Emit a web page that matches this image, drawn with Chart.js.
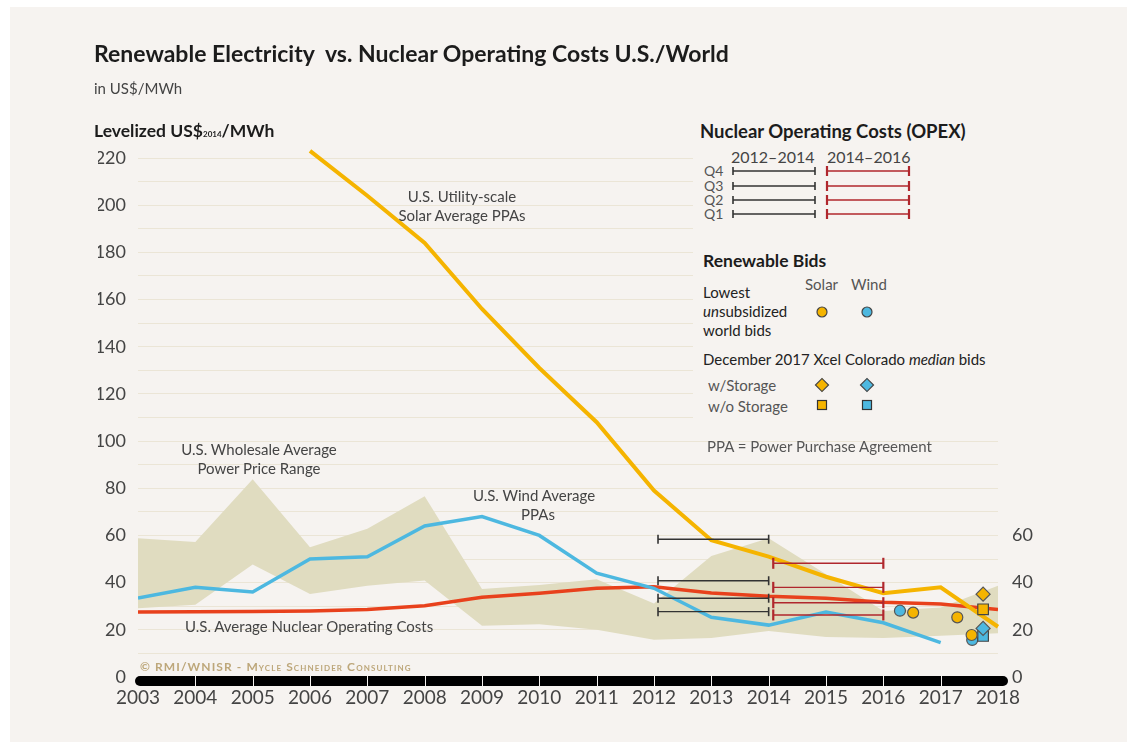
<!DOCTYPE html>
<html>
<head>
<meta charset="utf-8">
<script src="https://cdn.jsdelivr.net/npm/chart.js@4.4.1/dist/chart.umd.min.js"></script>
<style>
  body { margin: 0; background: #fff; }
  #wrap { position: relative; width: 1135px; height: 747px; overflow: hidden; font-family: Lato, 'Noto Sans', sans-serif; }
  #panel { position: absolute; left: 10px; top: 7px; width: 1117px; height: 735px; background: #f6f3f0; }
  canvas { position: absolute; left: 0; top: 0; }
  .t { position: absolute; white-space: nowrap; line-height: 1; transform: translateY(-50%); color: #444; font-size: 15px; }
  .c { transform: translate(-50%, -50%); text-align: center; }
  .b { font-weight: 700; color: #1c1c1c; }
  #legendBox { position: absolute; left: 693px; top: 118px; width: 312px; height: 315px; background: #f6f3f0; }
  #legendBox svg { position: absolute; left: 0; top: 0; }
  .copy { font-size: 12px; font-weight: 700; font-variant: small-caps; color: #bda77a; letter-spacing: 1.1px; }
</style>
</head>
<body>
<div id="wrap">
  <div id="panel"></div>
  <canvas id="chart" width="1135" height="747"></canvas>

  <div class="t b" style="left:94px; top:53px; font-size:23px;">Renewable Electricity&nbsp; vs. Nuclear Operating Costs U.S./World</div>
  <div class="t" style="left:94px; top:88px; font-size:15px;">in US$/MWh</div>
  <div class="t b" style="left:94px; top:131px; font-size:17.5px;">Levelized US$<span style="font-size:8px;">2014</span>/MWh</div>

  <div class="t c" style="left:462px; top:196px;">U.S. Utility-scale</div>
  <div class="t c" style="left:462px; top:215px;">Solar Average PPAs</div>
  <div class="t c" style="left:259px; top:449px;">U.S. Wholesale Average</div>
  <div class="t c" style="left:259px; top:468px;">Power Price Range</div>
  <div class="t c" style="left:534px; top:495px;">U.S. Wind Average</div>
  <div class="t c" style="left:538px; top:514px;">PPAs</div>
  <div class="t" style="left:185px; top:626px;">U.S. Average Nuclear Operating Costs</div>
  <div class="t copy" style="left:140px; top:667px;">© RMI/WNISR - Mycle Schneider Consulting</div>

  <div id="legendBox">
    <svg width="312" height="315" id="legendSvg"></svg>
    <div class="t b" style="left:7px; top:13px; font-size:18.5px;">Nuclear Operating Costs (OPEX)</div>
    <div class="t" style="left:38px; top:39px; font-size:16px;">2012–2014</div>
    <div class="t" style="left:134px; top:39px; font-size:16px;">2014–2016</div>
    <div class="t" style="left:11px; top:53px; font-size:14px; color:#555;">Q4</div>
    <div class="t" style="left:11px; top:68px; font-size:14px; color:#555;">Q3</div>
    <div class="t" style="left:11px; top:82px; font-size:14px; color:#555;">Q2</div>
    <div class="t" style="left:11px; top:96px; font-size:14px; color:#555;">Q1</div>

    <div class="t b" style="left:10px; top:143px; font-size:17.5px;">Renewable Bids</div>
    <div class="t" style="left:112px; top:166px; color:#555;">Solar</div>
    <div class="t" style="left:158px; top:166px; color:#555;">Wind</div>
    <div class="t" style="left:10px; top:174px; color:#222;">Lowest</div>
    <div class="t" style="left:10px; top:193px; color:#222;"><i>un</i>subsidized</div>
    <div class="t" style="left:10px; top:212px; color:#222;">world bids</div>
    <div class="t" style="left:10px; top:241px; color:#222;">December 2017 Xcel Colorado <i>median</i> bids</div>
    <div class="t" style="left:15px; top:267px; color:#555;">w/Storage</div>
    <div class="t" style="left:15px; top:288px; color:#555;">w/o Storage</div>
  </div>
  <div class="t" style="left:707px; top:446px; color:#555;">PPA = Power Purchase Agreement</div>
</div>

<script>
// x values (years) and series, US$/MWh
const years = [2003, 2004, 2005, 2006, 2007, 2008, 2009, 2010, 2011, 2012, 2013, 2014, 2015, 2016, 2017, 2018];
const solarPPA = [null, null, null, 223, 204, 184, 156, 131, 108, 79, 58, 51, 42.5, 35.5, 38, 21.3];
const windPPA = [33.5, 38, 36, 50, 51, 64, 68, 60, 44, 37.6, 25.3, 22, 27.5, 23, 14.6, null];
const nuclearOpex = [27.6, 27.7, 27.8, 28, 28.6, 30.2, 33.8, 35.5, 37.6, 38.3, 35.6, 34.2, 33.4, 31.7, 30.9, 28.6];
const wholesaleHigh = [58.8, 57.2, 83.8, 55, 62.8, 76.6, 37.3, 39, 41.4, 31.2, 51.3, 58.8, 43.6, 28, 29.5, 38.7];
const wholesaleLow = [29.1, 30.6, 47.7, 35.2, 38.7, 40.9, 21.7, 22.4, 20, 15.8, 16.5, 19.5, 17, 16.5, 17.5, 18.5];

// nuclear OPEX quartiles, two periods
const opexQuartiles = ['Q1', 'Q2', 'Q3', 'Q4'];
const opex2012_2014 = [27.7, 33.4, 40.8, 58.4];
const opex2014_2016 = [26.3, 31.5, 38, 48.2];
const opexSpanA = [2012.07, 2014];
const opexSpanB = [2014.08, 2016];

// renewable bids
const solarBidX = [2016.52, 2017.29, 2017.54];
const solarBidY = [27.3, 25.3, 17.8];
const windBidX = [2016.29, 2017.55];
const windBidY = [28.1, 15.7];
const xcelX = 2017.74;
const xcelSolarStorage = 35.1;
const xcelWindStorage = 20.6;
const xcelSolarNoStorage = 28.7;
const xcelWindNoStorage = 17.4;

const yTicksLeft = [0, 20, 40, 60, 80, 100, 120, 140, 160, 180, 200, 220];
const yTicksRight = [0, 20, 40, 60];

const SOLAR = '#f5b400';
const WIND = '#4db8e0';
const NUKE = '#e8411c';
const BAND = '#e0dcc0';
const GRID = '#ebe5d6';
const TXT = '#444';

const pts = (xs, ys) => xs.map((x, i) => ({ x: x, y: ys[i] })).filter(p => p.y !== null);

const datasets = [];

// bid markers on top
datasets.push({ label: 'Solar bids', data: pts(solarBidX, solarBidY), showLine: false, pointStyle: 'circle', pointRadius: 5.5,
  pointBackgroundColor: SOLAR, pointBorderColor: '#555', pointBorderWidth: 1.2, order: 0 });
datasets.push({ label: 'Wind bids', data: pts(windBidX, windBidY), showLine: false, pointStyle: 'circle', pointRadius: 5.5,
  pointBackgroundColor: WIND, pointBorderColor: '#555', pointBorderWidth: 1.2, order: 1 });
datasets.push({ label: 'Xcel w/Storage', data: [{ x: xcelX, y: xcelSolarStorage }], showLine: false, pointStyle: 'rectRot', pointRadius: 7,
  pointBackgroundColor: SOLAR, pointBorderColor: '#555', pointBorderWidth: 1.2, order: 0 });
datasets.push({ label: 'Xcel w/Storage wind', data: [{ x: xcelX, y: xcelWindStorage }], showLine: false, pointStyle: 'rectRot', pointRadius: 7,
  pointBackgroundColor: WIND, pointBorderColor: '#555', pointBorderWidth: 1.2, order: 0 });
datasets.push({ label: 'Xcel w/o Storage', data: [{ x: xcelX, y: xcelSolarNoStorage }], showLine: false, pointStyle: 'rect', pointRadius: 7.5,
  pointBackgroundColor: SOLAR, pointBorderColor: '#444', pointBorderWidth: 1.2, order: 0 });
datasets.push({ label: 'Xcel w/o Storage wind', data: [{ x: xcelX, y: xcelWindNoStorage }], showLine: false, pointStyle: 'rect', pointRadius: 7.5,
  pointBackgroundColor: WIND, pointBorderColor: '#444', pointBorderWidth: 1.2, order: 0 });

// OPEX ranges
opexQuartiles.forEach((q, i) => {
  datasets.push({ label: 'OPEX 2012-2014 ' + q, data: pts(opexSpanA, [opex2012_2014[i], opex2012_2014[i]]),
    borderColor: '#333', borderWidth: 1.4, pointStyle: 'line', rotation: 90, pointRadius: 4.5,
    pointBorderColor: '#333', pointBorderWidth: 1.6, order: 2 });
  datasets.push({ label: 'OPEX 2014-2016 ' + q, data: pts(opexSpanB, [opex2014_2016[i], opex2014_2016[i]]),
    borderColor: '#b0272d', borderWidth: 1.4, pointStyle: 'line', rotation: 90, pointRadius: 5.5,
    pointBorderColor: '#b0272d', pointBorderWidth: 2.2, order: 2 });
});

datasets.push({ label: 'U.S. Utility-scale Solar Average PPAs', data: pts(years, solarPPA), borderColor: SOLAR, borderWidth: 4,
  pointRadius: 0, tension: 0, clip: false, order: 3 });
datasets.push({ label: 'U.S. Wind Average PPAs', data: pts(years, windPPA), borderColor: WIND, borderWidth: 3.5,
  pointRadius: 0, tension: 0, order: 4 });
datasets.push({ label: 'U.S. Average Nuclear Operating Costs', data: pts(years, nuclearOpex), borderColor: NUKE, borderWidth: 3.5,
  pointRadius: 0, tension: 0, order: 5 });
datasets.push({ label: 'Wholesale low', data: pts(years, wholesaleLow), borderColor: 'transparent', borderWidth: 0,
  pointRadius: 0, fill: false, order: 6 });
datasets.push({ label: 'U.S. Wholesale Average Power Price Range', data: pts(years, wholesaleHigh), borderColor: 'transparent', borderWidth: 0,
  pointRadius: 0, fill: '-1', backgroundColor: BAND, order: 6 });

// thick black year bar under the plot
const yearBar = {
  id: 'yearBar',
  afterDraw(chart) {
    const { ctx, scales: { x }, chartArea } = chart;
    const x0 = x.getPixelForValue(years[0]) - 3;
    const x1 = x.getPixelForValue(years[years.length - 1]) + 10;
    const top = chartArea.bottom - 1, h = 10;
    ctx.save();
    ctx.fillStyle = '#000';
    ctx.beginPath();
    ctx.roundRect(x0, top, x1 - x0, h, h / 2);
    ctx.fill();
    ctx.strokeStyle = '#f6f3f0';
    ctx.lineWidth = 1;
    years.slice(1, -1).forEach(yr => {
      const px = Math.round(x.getPixelForValue(yr)) + 0.5;
      ctx.beginPath();
      ctx.moveTo(px, top);
      ctx.lineTo(px, top + h);
      ctx.stroke();
    });
    ctx.restore();
  }
};

Chart.defaults.font.family = "Lato, 'Noto Sans', sans-serif";

new Chart(document.getElementById('chart'), {
  type: 'line',
  data: { datasets: datasets },
  options: {
    responsive: false,
    animation: false,
    devicePixelRatio: 1,
    events: [],
    layout: { padding: { left: 98, right: 97, top: 158, bottom: 40 } },
    plugins: { legend: { display: false }, tooltip: { enabled: false } },
    scales: {
      x: {
        type: 'linear', min: years[0], max: years[years.length - 1],
        afterBuildTicks: s => { s.ticks = years.map(v => ({ value: v })); },
        afterFit: s => { s.height = 30; },
        grid: { display: false, drawTicks: false }, border: { display: false },
        ticks: { padding: 9, color: TXT, font: { size: 19 }, callback: v => String(v), maxRotation: 0, autoSkip: false }
      },
      y: {
        min: 0, max: 220,
        afterBuildTicks: s => { s.ticks = []; for (let v = 0; v <= 220; v += 10) s.ticks.push({ value: v }); },
        afterFit: s => { s.width = 40; },
        grid: { color: GRID, lineWidth: 1, drawTicks: false }, border: { display: false },
        ticks: { padding: 12, color: TXT, font: { size: 18 }, autoSkip: false,
          callback: v => yTicksLeft.includes(v) ? String(v) : '' }
      },
      y2: {
        position: 'right', min: 0, max: 220,
        afterBuildTicks: s => { s.ticks = yTicksRight.map(v => ({ value: v })); },
        afterFit: s => { s.width = 40; },
        grid: { display: false, drawTicks: false }, border: { display: false },
        ticks: { padding: 14, color: TXT, font: { size: 18 }, autoSkip: false, callback: v => String(v) }
      }
    }
  },
  plugins: [yearBar]
});

// legend glyphs
(function drawLegend() {
  const svg = document.getElementById('legendSvg');
  const ns = 'http://www.w3.org/2000/svg';
  const add = (tag, attrs) => { const el = document.createElementNS(ns, tag); for (const k in attrs) el.setAttribute(k, attrs[k]); svg.appendChild(el); };
  const rows = [53, 68, 82, 96];
  rows.forEach(y => {
    add('line', { x1: 40, x2: 122, y1: y, y2: y, stroke: '#333', 'stroke-width': 1.4 });
    add('line', { x1: 40, x2: 40, y1: y - 4, y2: y + 4, stroke: '#333', 'stroke-width': 1.6 });
    add('line', { x1: 122, x2: 122, y1: y - 4, y2: y + 4, stroke: '#333', 'stroke-width': 1.6 });
    add('line', { x1: 134, x2: 216, y1: y, y2: y, stroke: '#b0272d', 'stroke-width': 1.4 });
    add('line', { x1: 134, x2: 134, y1: y - 5, y2: y + 5, stroke: '#b0272d', 'stroke-width': 2.2 });
    add('line', { x1: 216, x2: 216, y1: y - 5, y2: y + 5, stroke: '#b0272d', 'stroke-width': 2.2 });
  });
  [[129, SOLAR], [174, WIND]].forEach(([cx, col]) => {
    add('circle', { cx: cx, cy: 194, r: 5, fill: col, stroke: '#444', 'stroke-width': 1.2 });
    add('rect', { x: cx - 4.6, y: 267 - 4.6, width: 9.2, height: 9.2, transform: 'rotate(45 ' + cx + ' 267)', fill: col, stroke: '#444', 'stroke-width': 1.2 });
    add('rect', { x: cx - 4.5, y: 287 - 4.5, width: 9, height: 9, fill: col, stroke: '#333', 'stroke-width': 1.2 });
  });
})();
</script>
</body>
</html>
